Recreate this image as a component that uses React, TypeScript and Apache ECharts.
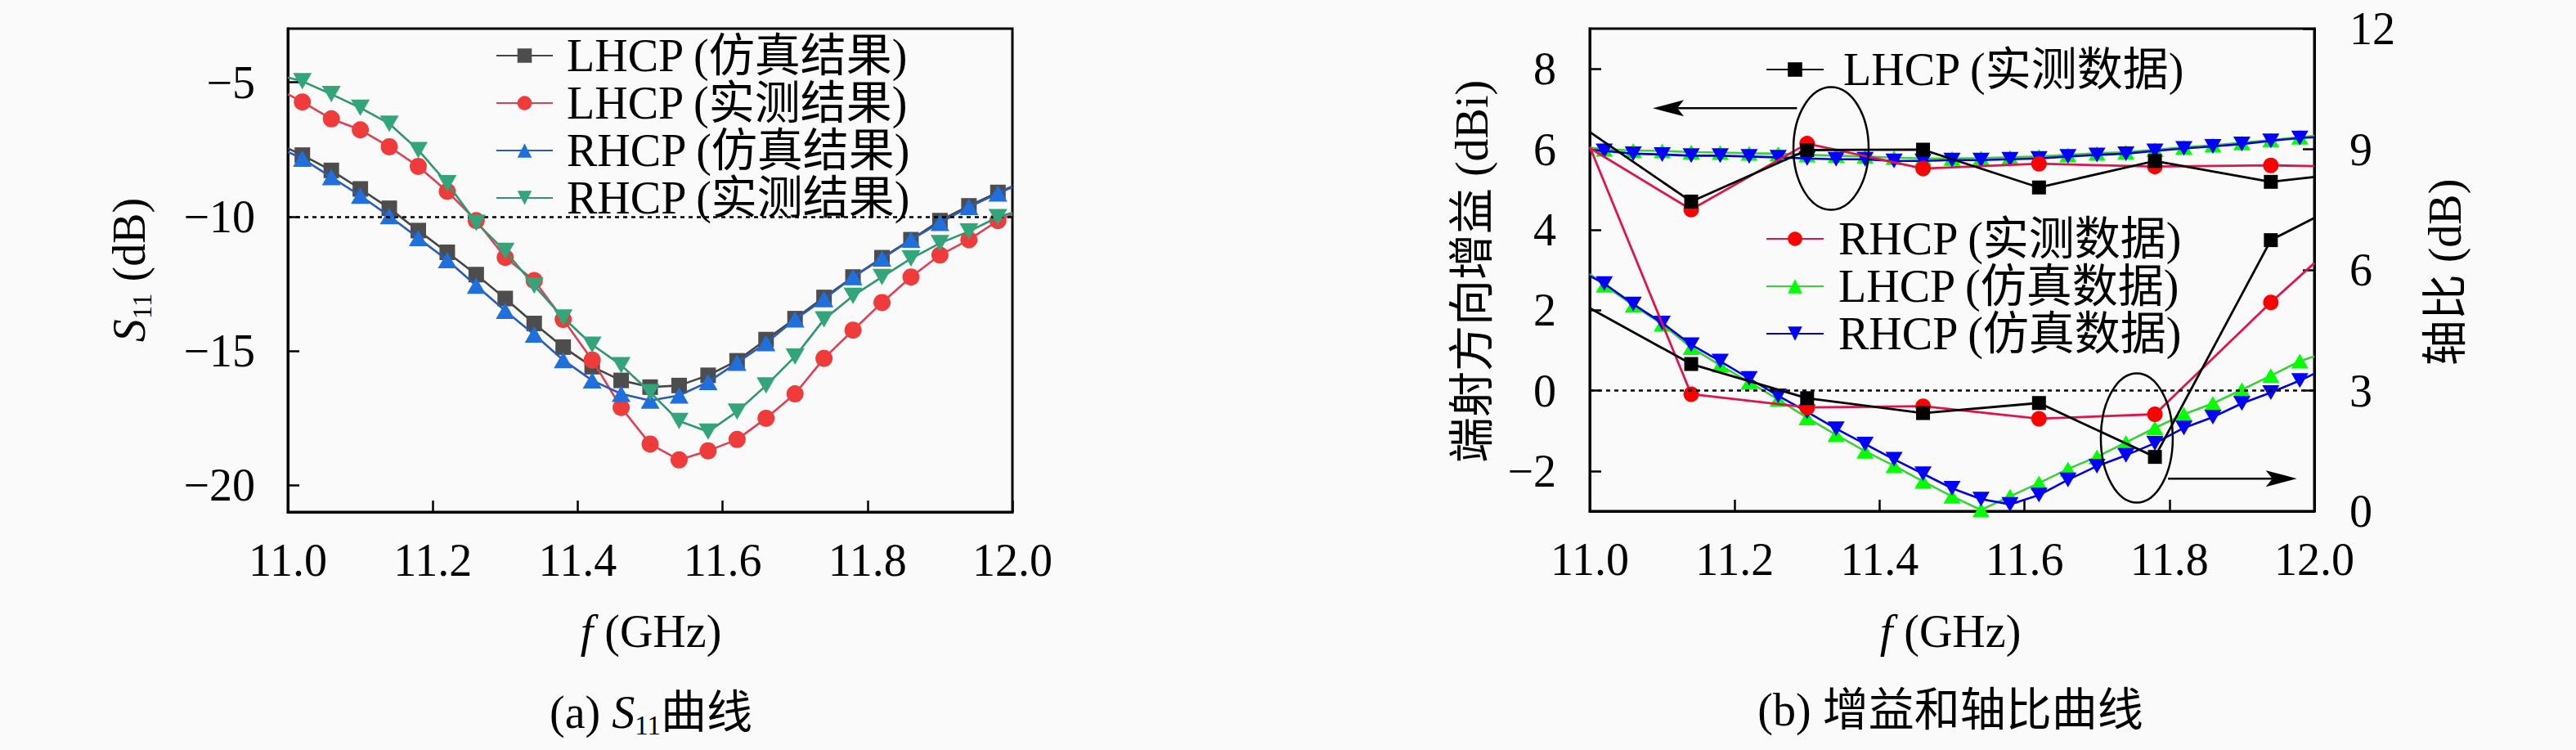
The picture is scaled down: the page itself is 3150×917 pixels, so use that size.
import React, { useEffect, useRef } from "react";
import * as echarts from "echarts";

// ---------- shared axis values ----------
const FREQ_MIN = 11.0;
const FREQ_MAX = 12.0;
const FREQ_TICKS = [11.0, 11.2, 11.4, 11.6, 11.8, 12.0];

// ---------- (a) S11 ----------
const S11_MIN = -21;
const S11_MAX = -3;
const S11_TICKS = [-20, -15, -10, -5];
const S11_REF = -10;
const S11_FREQ = [
  11.0, 11.02, 11.06, 11.1, 11.14, 11.18, 11.22, 11.26, 11.3, 11.34, 11.38, 11.42, 11.46, 11.5,
  11.54, 11.58, 11.62, 11.66, 11.7, 11.74, 11.78, 11.82, 11.86, 11.9, 11.94, 11.98, 12.0,
];
const S11_LHCP_SIM = [
  -7.46, -7.71, -8.28, -8.97, -9.69, -10.52, -11.33, -12.16, -13.05, -13.98, -14.86, -15.59, -16.1,
  -16.35, -16.29, -15.91, -15.37, -14.58, -13.8, -13.01, -12.25, -11.53, -10.86, -10.15, -9.6, -9.1, -8.88,
];
const S11_LHCP_MEAS = [
  -5.44, -5.73, -6.36, -6.77, -7.4, -8.13, -9.06, -10.15, -11.52, -12.38, -13.83, -15.34, -17.11,
  -18.47, -19.06, -18.72, -18.3, -17.51, -16.6, -15.28, -14.23, -13.2, -12.25, -11.43, -10.86, -10.15, -9.92,
];
const S11_RHCP_SIM = [
  -7.59, -7.84, -8.53, -9.22, -9.98, -10.8, -11.62, -12.57, -13.51, -14.39, -15.34, -16.1, -16.6,
  -16.85, -16.66, -16.16, -15.44, -14.71, -13.83, -13.07, -12.25, -11.56, -10.86, -10.23, -9.64, -9.14, -8.9,
];
const S11_RHCP_MEAS = [
  -4.82, -4.96, -5.44, -5.95, -6.54, -7.52, -8.76, -10.23, -11.28, -12.57, -13.76, -14.77, -15.53,
  -16.54, -17.61, -18.01, -17.26, -16.29, -15.21, -13.83, -12.95, -12.25, -11.56, -10.99, -10.55, -10.02, -9.85,
];

// ---------- (b) gain & axial ratio ----------
const GAIN_MIN = -3;
const GAIN_MAX = 9;
const GAIN_TICKS = [-2, 0, 2, 4, 6, 8];
const GAIN_REF = 0;
const AR_MIN = 0;
const AR_MAX = 12;
const AR_STEP = 3;
const MEAS_FREQ = [11.0, 11.14, 11.3, 11.46, 11.62, 11.78, 11.94, 12.0];
const GAIN_LHCP_MEAS = [6.43, 4.7, 5.98, 5.99, 5.05, 5.71, 5.19, 5.31];
const GAIN_RHCP_MEAS = [6.03, 4.5, 6.14, 5.52, 5.64, 5.57, 5.6, 5.58];
const AR_LHCP_MEAS = [5.05, 3.66, 2.81, 2.44, 2.69, 1.35, 6.74, 7.29];
const AR_RHCP_MEAS = [9.06, 2.91, 2.58, 2.61, 2.3, 2.41, 5.19, 6.17];
const SIM_FREQ = [
  11.0, 11.02, 11.06, 11.1, 11.14, 11.18, 11.22, 11.26, 11.3, 11.34, 11.38, 11.42, 11.46, 11.5,
  11.54, 11.58, 11.62, 11.66, 11.7, 11.74, 11.78, 11.82, 11.86, 11.9, 11.94, 11.98, 12.0,
];
const GAIN_LHCP_SIM = [
  6.04, 6.0, 5.97, 5.96, 5.93, 5.92, 5.9, 5.89, 5.86, 5.84, 5.82, 5.79, 5.77, 5.77, 5.78, 5.8, 5.82,
  5.86, 5.9, 5.93, 5.99, 6.05, 6.1, 6.16, 6.23, 6.3, 6.33,
];
const GAIN_RHCP_SIM = [
  5.98, 5.96, 5.89, 5.87, 5.84, 5.84, 5.82, 5.8, 5.77, 5.75, 5.75, 5.71, 5.71, 5.73, 5.73, 5.75, 5.77,
  5.82, 5.86, 5.89, 5.96, 6.02, 6.07, 6.13, 6.21, 6.28, 6.3,
];
const AR_LHCP_SIM = [
  5.9, 5.62, 5.12, 4.65, 4.07, 3.63, 3.21, 2.78, 2.32, 1.9, 1.49, 1.13, 0.74, 0.37, 0.03, 0.37, 0.7,
  1.05, 1.35, 1.71, 2.07, 2.41, 2.68, 3.02, 3.37, 3.73, 3.85,
];
const AR_RHCP_SIM = [
  5.85, 5.66, 5.15, 4.68, 4.14, 3.73, 3.3, 2.87, 2.47, 2.05, 1.67, 1.29, 0.93, 0.57, 0.3, 0.17, 0.4,
  0.78, 1.12, 1.39, 1.69, 2.07, 2.34, 2.68, 2.95, 3.25, 3.42,
];

// annotation anchors (data coordinates of panel b, gain axis)
const ELLIPSE_GAIN = [11.333, 6.02];
const ELLIPSE_AR = [11.755, -1.18];
const ARROW_GAIN = { y: 7.02, from: 11.286, to: 11.087 };
const ARROW_AR = { y: -2.19, from: 11.798, to: 11.976 };

const FONT = "'Liberation Serif', 'Times New Roman', 'Noto Sans CJK SC', serif";
const FS = 56;
const DOWN_TRI = "path://M0,0L20,0L10,17.3Z";

const minus = (v: number) => (v < 0 ? "\u2212" + Math.abs(v) : String(v));

function pts(xs: number[], ys: number[]) {
  return xs.map((x, i) =>
    x === FREQ_MIN || x === FREQ_MAX
      ? { value: [x, ys[i]], symbol: "none" }
      : { value: [x, ys[i]] }
  );
}

function lineSeries(
  name: string,
  xs: number[],
  ys: number[],
  o: { symbol: string; size: any; color: string; lineColor: string; width: number; xi: number; yi: number; z: number }
) {
  return {
    type: "line",
    name,
    data: pts(xs, ys),
    xAxisIndex: o.xi,
    yAxisIndex: o.yi,
    symbol: o.symbol,
    symbolSize: o.size,
    showAllSymbol: true,
    clip: true,
    z: o.z,
    itemStyle: { color: o.color, borderWidth: 0 },
    lineStyle: { color: o.lineColor, width: o.width },
    emphasis: { disabled: true },
  };
}

function xAxisOf(gridIndex: number) {
  return {
    type: "value",
    gridIndex,
    min: FREQ_MIN,
    max: FREQ_MAX,
    axisLine: { show: true, onZero: false, lineStyle: { color: "#000", width: 3 } },
    axisTick: { show: true, inside: true, length: 14, customValues: FREQ_TICKS, lineStyle: { color: "#000", width: 2.5 } },
    axisLabel: {
      customValues: FREQ_TICKS,
      formatter: (v: number) => v.toFixed(1),
      fontSize: FS,
      fontFamily: FONT,
      color: "#000",
      margin: 31,
    },
    splitLine: { show: false },
  };
}

const refLine = (v: number) => ({
  silent: true,
  symbol: "none",
  label: { show: false },
  lineStyle: { color: "#000", type: [5, 5], width: 2.5 },
  emphasis: { disabled: true },
  data: [{ yAxis: v }],
});

export default function App() {
  const ref = useRef<HTMLDivElement>(null);

  useEffect(() => {
    document.body.style.margin = "0";
    const chart = echarts.init(ref.current!, null, { renderer: "svg" });

    const yLabel = { fontSize: FS, fontFamily: FONT, color: "#000" };
    const tickStyle = { color: "#000", width: 2.5 };
    const axisLineStyle = { show: true, onZero: false, lineStyle: { color: "#000", width: 3 } };

    const sA = [
      lineSeries("LHCP (仿真结果)", S11_FREQ, S11_LHCP_SIM, { symbol: "rect", size: 19, color: "#4d4d4d", lineColor: "#444444", width: 2.6, xi: 0, yi: 0, z: 2 }),
      lineSeries("LHCP (实测结果)", S11_FREQ, S11_LHCP_MEAS, { symbol: "circle", size: 21, color: "#f03b3b", lineColor: "#dc4057", width: 2.6, xi: 0, yi: 0, z: 3 }),
      lineSeries("RHCP (仿真结果)", S11_FREQ, S11_RHCP_SIM, { symbol: "triangle", size: [23, 20], color: "#1f6fdc", lineColor: "#2b5cb5", width: 2.6, xi: 0, yi: 0, z: 4 }),
      lineSeries("RHCP (实测结果)", S11_FREQ, S11_RHCP_MEAS, { symbol: DOWN_TRI, size: [23, 20], color: "#33a57b", lineColor: "#2f9672", width: 2.6, xi: 0, yi: 0, z: 5 }),
    ];
    (sA[0] as any).markLine = refLine(S11_REF);

    const sB = [
      lineSeries("LHCP (仿真数据)", SIM_FREQ, GAIN_LHCP_SIM, { symbol: "triangle", size: [21, 18], color: "#00ff00", lineColor: "#3ccf3c", width: 2.6, xi: 1, yi: 1, z: 2 }),
      lineSeries("LHCP (仿真数据)", SIM_FREQ, AR_LHCP_SIM, { symbol: "triangle", size: [21, 18], color: "#00ff00", lineColor: "#3ccf3c", width: 2.6, xi: 1, yi: 2, z: 2 }),
      lineSeries("RHCP (仿真数据)", SIM_FREQ, GAIN_RHCP_SIM, { symbol: DOWN_TRI, size: [21, 18], color: "#0000ff", lineColor: "#0000d8", width: 2.6, xi: 1, yi: 1, z: 3 }),
      lineSeries("RHCP (仿真数据)", SIM_FREQ, AR_RHCP_SIM, { symbol: DOWN_TRI, size: [21, 18], color: "#0000ff", lineColor: "#0000d8", width: 2.6, xi: 1, yi: 2, z: 3 }),
      lineSeries("RHCP (实测数据)", MEAS_FREQ, GAIN_RHCP_MEAS, { symbol: "circle", size: 19, color: "#ff0000", lineColor: "#e0144c", width: 2.8, xi: 1, yi: 1, z: 4 }),
      lineSeries("RHCP (实测数据)", MEAS_FREQ, AR_RHCP_MEAS, { symbol: "circle", size: 19, color: "#ff0000", lineColor: "#e0144c", width: 2.8, xi: 1, yi: 2, z: 4 }),
      lineSeries("LHCP (实测数据)", MEAS_FREQ, GAIN_LHCP_MEAS, { symbol: "rect", size: 17, color: "#000000", lineColor: "#000000", width: 2.8, xi: 1, yi: 1, z: 5 }),
      lineSeries("LHCP (实测数据)", MEAS_FREQ, AR_LHCP_MEAS, { symbol: "rect", size: 17, color: "#000000", lineColor: "#000000", width: 2.8, xi: 1, yi: 2, z: 5 }),
    ];
    (sB[6] as any).markLine = refLine(GAIN_REF);

    const legendText = (pad: number, lh: number) => ({
      fontSize: FS,
      fontFamily: FONT,
      color: "#000",
      lineHeight: lh,
      padding: [0, 0, 0, pad],
    });

    chart.setOption({
      animation: false,
      backgroundColor: "#fafafa",
      textStyle: { fontFamily: FONT },
      grid: [
        { left: 352, top: 35, width: 886, height: 591, show: true, borderColor: "#000", borderWidth: 3, backgroundColor: "transparent" },
        { left: 1944, top: 35, width: 886, height: 590, show: true, borderColor: "#000", borderWidth: 3, backgroundColor: "transparent" },
      ],
      legend: [
        {
          data: ["LHCP (仿真结果)", "LHCP (实测结果)", "RHCP (仿真结果)", "RHCP (实测结果)"],
          orient: "vertical",
          left: 601,
          top: 35,
          itemWidth: 69,
          itemHeight: 22,
          itemGap: 2,
          selectedMode: false,
          textStyle: legendText(12, 50),
        },
        {
          data: ["LHCP (实测数据)"],
          orient: "vertical",
          left: 2154,
          top: 52,
          itemWidth: 70,
          itemHeight: 22,
          itemGap: 5,
          selectedMode: false,
          textStyle: legendText(19, 50),
        },
        {
          data: ["RHCP (实测数据)", "LHCP (仿真数据)", "RHCP (仿真数据)"],
          orient: "vertical",
          left: 2154,
          top: 259,
          itemWidth: 70,
          itemHeight: 22,
          itemGap: 2,
          selectedMode: false,
          textStyle: legendText(13, 54),
        },
      ],
      xAxis: [xAxisOf(0), xAxisOf(1)],
      yAxis: [
        {
          type: "value",
          gridIndex: 0,
          min: S11_MIN,
          max: S11_MAX,
          axisLine: axisLineStyle,
          axisTick: { show: true, inside: true, length: 14, customValues: S11_TICKS, lineStyle: tickStyle },
          axisLabel: { ...yLabel, customValues: S11_TICKS, formatter: minus, margin: 40 },
          splitLine: { show: false },
        },
        {
          type: "value",
          gridIndex: 1,
          position: "left",
          min: GAIN_MIN,
          max: GAIN_MAX,
          axisLine: axisLineStyle,
          axisTick: { show: true, inside: true, length: 14, customValues: GAIN_TICKS, lineStyle: tickStyle },
          axisLabel: { ...yLabel, customValues: GAIN_TICKS, formatter: minus, margin: 41 },
          splitLine: { show: false },
        },
        {
          type: "value",
          gridIndex: 1,
          position: "right",
          min: AR_MIN,
          max: AR_MAX,
          interval: AR_STEP,
          axisLine: axisLineStyle,
          axisTick: { show: true, inside: true, length: 14, lineStyle: tickStyle },
          axisLabel: { ...yLabel, formatter: minus, margin: 43 },
          splitLine: { show: false },
        },
      ],
      series: [...sA, ...sB],
    });

    const px = (x: number, y: number) =>
      chart.convertToPixel({ xAxisIndex: 1, yAxisIndex: 1 } as any, [x, y]) as number[];

    const e1 = px(ELLIPSE_GAIN[0], ELLIPSE_GAIN[1]);
    const e2 = px(ELLIPSE_AR[0], ELLIPSE_AR[1]);
    const a1s = px(ARROW_GAIN.from, ARROW_GAIN.y);
    const a1t = px(ARROW_GAIN.to, ARROW_GAIN.y);
    const a2s = px(ARROW_AR.from, ARROW_AR.y);
    const a2t = px(ARROW_AR.to, ARROW_AR.y);

    const rich = {
      i: { fontStyle: "italic", fontSize: FS, fontFamily: FONT, lineHeight: 64 },
      sub: { fontSize: 33, fontFamily: FONT, verticalAlign: "bottom", lineHeight: 40 },
      n: { fontSize: FS, fontFamily: FONT, lineHeight: 64 },
    };
    const txt = (x: number, y: number, text: string, rot = 0) => ({
      type: "text",
      x,
      y,
      rotation: rot,
      silent: true,
      style: {
        text,
        rich,
        fontSize: FS,
        fontFamily: FONT,
        fill: "#000",
        align: "center",
        verticalAlign: "middle",
      },
    });
    const stroke = { stroke: "#000", lineWidth: 2.5, fill: "none" };

    chart.setOption({
      graphic: [
        txt(158, 330, "{i|S}{sub|11}{n| (dB)}", Math.PI / 2),
        txt(796, 772, "{i|f}{n| (GHz)}"),
        txt(796, 871, "{n|(a) }{i|S}{sub|11}{n|曲线}"),
        txt(1800, 332, "{n|端射方向增益 (dBi)}", Math.PI / 2),
        txt(2990, 333, "{n|轴比 (dB)}", Math.PI / 2),
        txt(2385, 772, "{i|f}{n| (GHz)}"),
        txt(2385, 868, "{n|(b) 增益和轴比曲线}"),
        { type: "ellipse", silent: true, z: 100, shape: { cx: e1[0], cy: e1[1], rx: 46, ry: 75 }, style: stroke },
        { type: "ellipse", silent: true, z: 100, shape: { cx: e2[0], cy: e2[1], rx: 44, ry: 79 }, style: stroke },
        { type: "line", silent: true, z: 100, shape: { x1: a1s[0], y1: a1s[1], x2: a1t[0] + 30, y2: a1t[1] }, style: { stroke: "#000", lineWidth: 2.5 } },
        {
          type: "polygon",
          silent: true,
          z: 100,
          shape: { points: [[a1t[0], a1t[1]], [a1t[0] + 38, a1t[1] - 10], [a1t[0] + 30, a1t[1]], [a1t[0] + 38, a1t[1] + 10]] },
          style: { fill: "#000" },
        },
        { type: "line", silent: true, z: 100, shape: { x1: a2s[0], y1: a2s[1], x2: a2t[0] - 30, y2: a2t[1] }, style: { stroke: "#000", lineWidth: 2.5 } },
        {
          type: "polygon",
          silent: true,
          z: 100,
          shape: { points: [[a2t[0], a2t[1]], [a2t[0] - 38, a2t[1] - 10], [a2t[0] - 30, a2t[1]], [a2t[0] - 38, a2t[1] + 10]] },
          style: { fill: "#000" },
        },
      ],
    });

    return () => chart.dispose();
  }, []);

  return (
    <div
      ref={ref}
      style={{ position: "absolute", left: 0, top: 0, width: 3150, height: 917, background: "#fafafa" }}
    />
  );
}
